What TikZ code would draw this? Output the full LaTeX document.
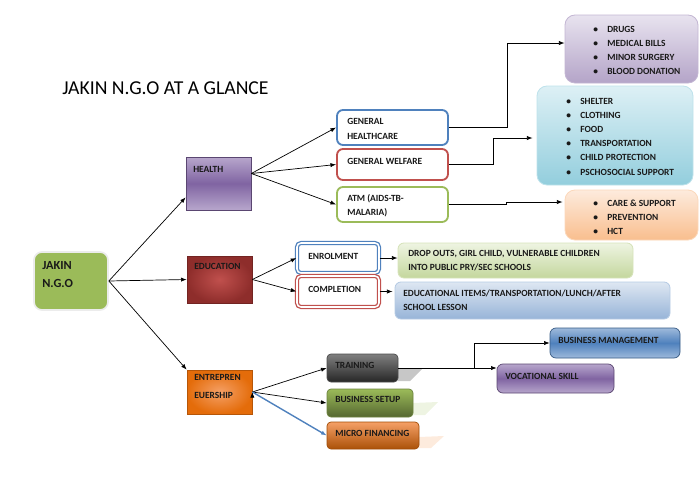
\documentclass[tikz,border=0pt]{standalone}
\usepackage{fontspec}
\setmainfont{Carlito}
\usetikzlibrary{arrows.meta,calc,fit}

\definecolor{ngogreen}{HTML}{9BBB59}
\definecolor{hpurple}{HTML}{8064A2}
\definecolor{hpurplel}{HTML}{B7A6CC}
\definecolor{edred}{HTML}{8E2D2B}
\definecolor{edredl}{HTML}{C0504D}
\definecolor{entor}{HTML}{E46C0A}
\definecolor{entorl}{HTML}{F5A066}
\definecolor{lnblue}{HTML}{4F81BD}
\definecolor{lnred}{HTML}{C0504D}
\definecolor{lngreen}{HTML}{9BBB59}
\definecolor{drugtop}{HTML}{E8E3EF}
\definecolor{drugbot}{HTML}{B4A4C8}
\definecolor{cyantop}{HTML}{DDF0F5}
\definecolor{cyanbot}{HTML}{93CEDD}
\definecolor{ortop}{HTML}{FDEBDD}
\definecolor{orbot}{HTML}{F9BE8E}
\definecolor{grtop}{HTML}{EEF4E2}
\definecolor{grbot}{HTML}{C4D79D}
\definecolor{bltop}{HTML}{DEE7F2}
\definecolor{blbot}{HTML}{97B4D8}

\newcommand{\itm}[1]{\makebox[3.5mm][l]{\textbullet}#1}

\begin{document}
\begin{tikzpicture}[x=0.025cm,y=-0.025cm,
    lbl/.style={font=\bfseries\fontsize{6.7}{10.1}\selectfont,inner sep=0pt,anchor=west,align=left,text=black!90},
    catbox/.style={inner sep=0pt,line width=0.5pt,draw=#1},
    subbox/.style={inner sep=0pt,fill=white,line width=1.3pt,rounded corners=1.5mm,draw=#1},
    dblbox/.style={inner sep=0pt,line width=0.9pt,double=white,double distance=1.1pt,rounded corners=1mm,draw=#1},
    infobox/.style={inner sep=0pt,line width=0.6pt,rounded corners=2.5mm,draw=#1},
    arr/.style={-{Latex[length=4pt,width=3pt]},line width=0.5pt}]
    \useasboundingbox (0,0) rectangle (700,481);

    \node[font=\fontsize{14}{16}\selectfont,anchor=west,inner sep=0pt] (title) at (62,88) {JAKIN N.G.O AT A GLANCE};

    % main and category boxes
    \node[catbox=white!85!gray,line width=1.2pt,fill=ngogreen,rounded corners=2mm,fit={(34,252)(108,310)}] (ngo) {};
    \node[lbl,font=\bfseries\fontsize{8.8}{12.8}\selectfont] (ngotxt) at (42,275) {JAKIN\\N.G.O};

    \node[catbox=hpurple!70!black,top color=hpurplel,bottom color=hpurplel,middle color=hpurple,fit={(186,157)(251,210)}] (health) {};
    \node[lbl] (healthtxt) at (193,169) {HEALTH};
    \node[catbox=edred!80!black,inner color=edredl,outer color=edred,fit={(187,256)(252,303)}] (edu) {};
    \node[lbl] (edutxt) at (194,266) {EDUCATION};
    \node[catbox=entor!80!black,inner color=entorl,outer color=entor,fit={(187,370)(252,414)}] (entre) {};
    \node[lbl,font=\bfseries\fontsize{6.7}{13}\selectfont] (entretxt) at (194,386.5) {ENTREPREN\\EUERSHIP};

    % health
    \node[subbox=lnblue,fit={(337,110)(448,145)}] (ghc) {};
    \node[lbl] (ghctxt) at (347,129) {GENERAL\\HEALTHCARE};
    \node[subbox=lnred,fit={(337,149)(448,180)}] (gwf) {};
    \node[lbl] (gwftxt) at (347,161) {GENERAL WELFARE};
    \node[subbox=lngreen,fit={(337,187)(448,222)}] (atm) {};
    \node[lbl] (atmtxt) at (347,205.5) {ATM (AIDS-TB-\\MALARIA)};

    \node[infobox=drugbot!80!white,top color=drugtop,bottom color=drugbot,fit={(565,15)(698,83)}] (drugs) {};
    \node[lbl] (drugslist) at (593,50.5) {\itm{DRUGS}\\\itm{MEDICAL BILLS}\\\itm{MINOR SURGERY}\\\itm{BLOOD DONATION}};
    \node[infobox=cyanbot!60!white,top color=cyantop,bottom color=cyanbot,fit={(537,86)(693,185)}] (welf) {};
    \node[lbl] (welflist) at (566,136.5) {\itm{SHELTER}\\\itm{CLOTHING}\\\itm{FOOD}\\\itm{TRANSPORTATION}\\\itm{CHILD PROTECTION}\\\itm{PSCHOSOCIAL SUPPORT}};
    \node[infobox=orbot!60!white,top color=ortop,bottom color=orbot,fit={(565,190)(698,240)}] (care) {};
    \node[lbl] (carelist) at (593,217) {\itm{CARE \& SUPPORT}\\\itm{PREVENTION}\\\itm{HCT}};

    % education
    \node[dblbox=lnblue,fit={(297,243)(379,273)}] (enrol) {};
    \node[lbl] (enroltxt) at (308,256) {ENROLMENT};
    \node[dblbox=lnred,fit={(297,276)(379,307)}] (compl) {};
    \node[lbl] (compltxt) at (308,289) {COMPLETION};
    \node[infobox=grbot!70!white,rounded corners=1.5mm,top color=grtop,bottom color=grbot,fit={(398,243)(633,278)}] (drop) {};
    \node[lbl] (droptxt) at (408,261) {DROP OUTS, GIRL CHILD, VULNERABLE CHILDREN\\INTO PUBLIC PRY/SEC SCHOOLS};
    \node[infobox=blbot!70!white,rounded corners=1.5mm,top color=bltop,bottom color=blbot,fit={(395,282)(670,319)}] (items) {};
    \node[lbl] (itemstxt) at (403,300.5) {EDUCATIONAL ITEMS/TRANSPORTATION/LUNCH/AFTER\\SCHOOL LESSON};

    % entrepreneurship
    \fill[black!22] (398,369) -- (423,368) -- (410,381) -- (398,381) -- cycle;
    \fill[grtop] (413,403) -- (438,402) -- (425,415) -- (413,415) -- cycle;
    \fill[ortop] (419,437) -- (444,436) -- (431,448) -- (419,448) -- cycle;
    \node[catbox=black!70,rounded corners=1mm,top color=black!50,bottom color=black!85,fit={(327,354)(398,382)}] (train) {};
    \node[lbl] (traintxt) at (335,365) {TRAINING};
    \node[catbox=ngogreen!70!black,rounded corners=1mm,top color=ngogreen,bottom color=ngogreen!55!black,fit={(327,389)(413,417)}] (setup) {};
    \node[lbl] (setuptxt) at (335,399) {BUSINESS SETUP};
    \node[catbox=entor!70!black,rounded corners=1mm,top color=entorl,bottom color=entor!75!black,fit={(327,422)(419,449)}] (micro) {};
    \node[lbl] (microtxt) at (335,433) {MICRO FINANCING};
    \node[catbox=lnblue!70!black,rounded corners=1.5mm,top color=lnblue!55,bottom color=lnblue!55,middle color=lnblue,fit={(550,328)(680,358)}] (bman) {};
    \node[lbl] (bmantxt) at (558,340) {BUSINESS MANAGEMENT};
    \node[catbox=hpurple!70!black,rounded corners=1.5mm,top color=hpurplel,bottom color=hpurplel,middle color=hpurple,fit={(497,364)(614,393)}] (voc) {};
    \node[lbl] (voctxt) at (505,376) {VOCATIONAL SKILL};

    % connectors
    \coordinate (healthin) at ($(health.south west)+(0,-13)$);
    \coordinate (healthout) at ($(health.east)+(0,-10)$);
    \path[draw,arr]
    (ngo.east) edge (healthin)
    (ngo.east) edge (edu.west)
    (ngo.east) edge (entre.north west)
    (healthout) edge (ghc.west)
    (healthout) edge (gwf.west)
    (healthout) edge (atm.west)
    (edu.east) edge (enrol.west)
    (edu.east) edge (compl.west)
    (entre.east) edge (train.west)
    (entre.east) edge (setup.west)
    ;
    \draw[arr,draw=lnblue,line width=1pt] (entre.east) -- (micro.west);

    \draw[arr] (ghc.east) -- ++(58,0) |- ($(drugs.west)+(0,-6)$);
    \draw[arr] (gwf.east) -- ++(44,0) |- ($(welf.west)+(-4,2.5)$);
    \draw[arr] (atm.east) -- ++(57,0) |- ($(care.west)+(-2,-13)$);
    \draw[arr] (enrol.east) -- (enrol.east -| drop.west);
    \draw[arr] (compl.east) -- ($(compl.east -| items.west)+(-2,0)$);
    \draw[arr] (train.east) -- (train.east -| voc.west);
    \draw[arr] ($(train.east)+(76,0)$) |- (bman.west);
\end{tikzpicture}
\end{document}
